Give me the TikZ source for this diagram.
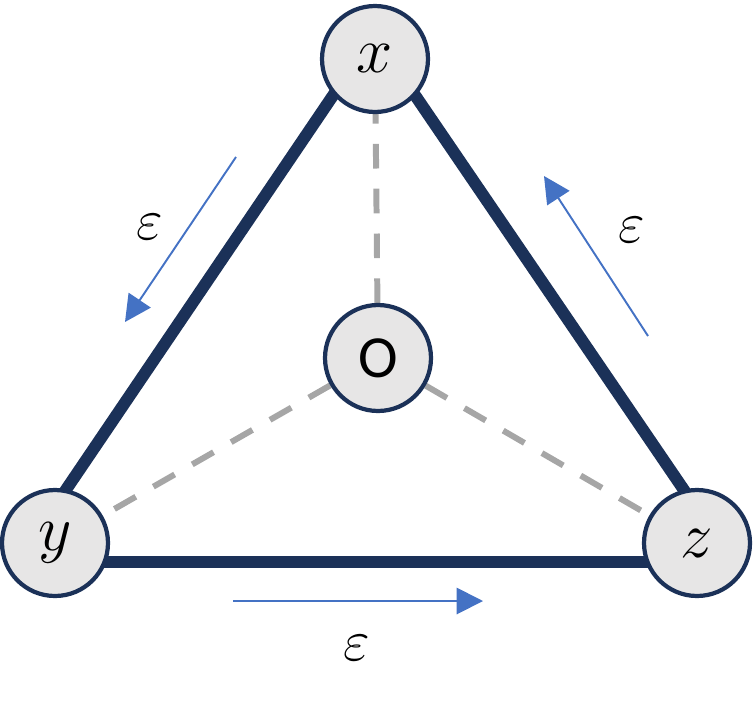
\RequirePackage{fix-cm}
\documentclass[tikz,border=0pt]{standalone}
\usepackage{fontspec}
\newfontfamily\calib{Carlito}
\usetikzlibrary{arrows.meta,backgrounds}
\definecolor{navy}{HTML}{1B3158}
\definecolor{ringfill}{HTML}{E7E6E6}
\definecolor{dashgray}{HTML}{A6A6A6}
\definecolor{arrblue}{HTML}{4472C4}
\tikzset{vert/.style={circle,draw=navy,fill=ringfill,line width=2.4pt,minimum size=2.12cm,inner sep=0pt,font=\fontsize{37}{42}\selectfont},
  edge/.style={navy,line width=6.8pt,line join=round},
  spoke/.style={dashgray,line width=3.4pt,dash pattern=on 14pt off 11.5pt},
  flow/.style={arrblue,line width=1.1pt,-{Triangle[length=15pt,width=15pt]}},
  eps/.style={font=\fontsize{33}{38}\selectfont}}

\begin{document}
\begin{tikzpicture}[x=0.02cm,y=-0.02cm]
\useasboundingbox(0,0)rectangle(753,703);
% vertices and centre
\node[vert](x)at(375,59){$x$};
\node[vert,font=\fontsize{34}{40}\selectfont](o)at(378,358){\calib O};
\node[vert](y)at(55,543){$y$};
\node[vert](z)at(697,543){$z$};
\coordinate(tx)at(374,35);\coordinate(ty)at(17,562);\coordinate(tz)at(733,562);
\begin{scope}[on background layer]
\draw[spoke](o)--(x);\draw[spoke](o)--(y);\draw[spoke](o)--(z);
\draw[edge](tx)--(ty)--(tz)--cycle;
\end{scope}
% flow arrows
\coordinate(f1s)at(236,157);\coordinate(f1e)at(125,322);\draw[flow](f1s)--(f1e);
\coordinate(f2s)at(648,336);\coordinate(f2e)at(544,176);\draw[flow](f2s)--(f2e);
\coordinate(f3s)at(233,601);\coordinate(f3e)at(483,601);\draw[flow](f3s)--(f3e);
\node[eps](e1)at(150,227){$\varepsilon$};
\node[eps](e2)at(632,230){$\varepsilon$};
\node[eps](e3)at(357,648){$\varepsilon$};
\end{tikzpicture}
\end{document}
